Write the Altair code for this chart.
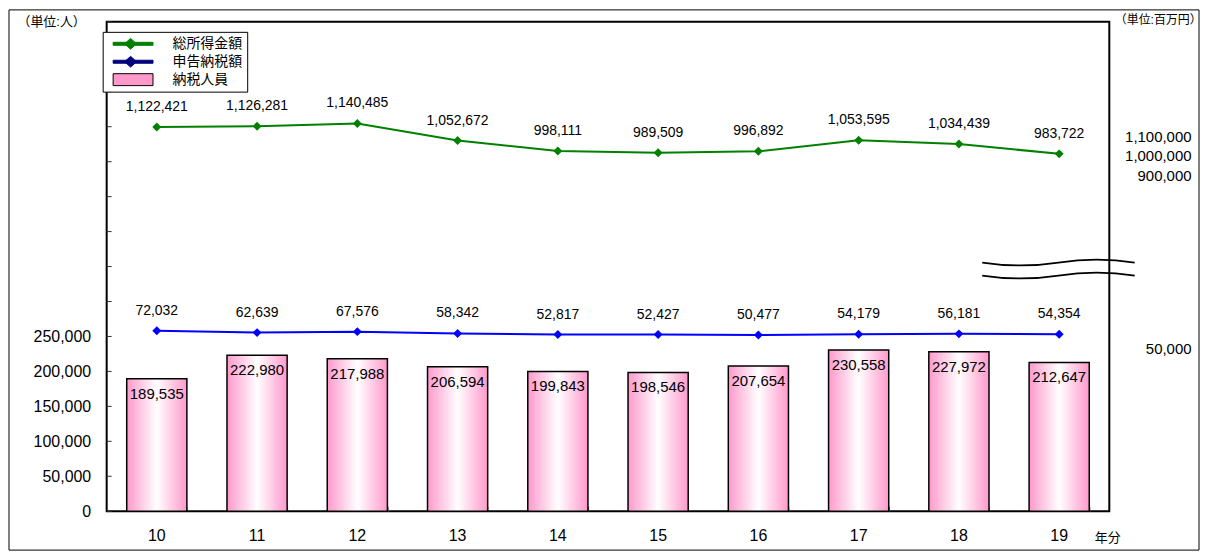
import altair as alt
import pandas as pd

# ---- data ----
years = ["10", "11", "12", "13", "14", "15", "16", "17", "18", "19"]
people = [189535, 222980, 217988, 206594, 199843, 198546, 207654, 230558, 227972, 212647]   # 納税人員 (人)
income = [1122421, 1126281, 1140485, 1052672, 998111, 989509, 996892, 1053595, 1034439, 983722]  # 総所得金額 (百万円)
tax = [72032, 62639, 67576, 58342, 52817, 52427, 50477, 54179, 56181, 54354]  # 申告納税額 (百万円)
left_tick_values = list(range(0, 700001, 50000))
left_label_values = [0, 50000, 100000, 150000, 200000, 250000]
right_label_values = [50000, 900000, 1000000, 1100000]
legend_names = ["総所得金額", "申告納税額", "納税人員"]

GREEN = "#008000"
BLUE = "#0000FF"
NAVY = "#000080"
PINK = "#FF99CC"
FONT = "Liberation Sans, Noto Sans CJK JP"

W, H = 1006, 491

df = pd.DataFrame({"year": years, "people": people, "income": income, "tax": tax})
ticks_df = pd.DataFrame({"v": left_tick_values})
one = pd.DataFrame({"k": [0]})

x_scale = alt.Scale(paddingInner=0.4, paddingOuter=0.2)

x_bottom = alt.X(
    "year:N", sort=years, scale=x_scale,
    axis=alt.Axis(orient="bottom", labelAngle=0, labelFontSize=16, labelPadding=24,
                  labelBaseline="middle", ticks=False, tickSize=0, domain=False, grid=False,
                  title="年分", titleX=991, titleY=26, titleAlign="left",
                  titleBaseline="middle", titleFontSize=13, titleFontWeight="normal"),
)
top_tick_axis = alt.Axis(orient="top", offset=-H, labels=False, domain=False, ticks=True,
                         tickSize=5, tickBand="extent", tickColor="#666666", tickWidth=1,
                         grid=False, title=None)
x_top = alt.X("year:N", sort=years, scale=x_scale, axis=top_tick_axis)

people_scale = alt.Scale(domain=[0, 700000], nice=False, zero=True)
left_axis = alt.Axis(orient="left", values=left_label_values, labelExpr="format(datum.value, ',')",
                     labelFontSize=16, labelPadding=16, ticks=False, tickSize=0, domain=False,
                     grid=False, title="（単位:人）", titleAngle=0, titleX=-90, titleY=0,
                     titleAlign="left", titleBaseline="middle", titleFontSize=13,
                     titleFontWeight="normal")

money_scale = alt.Scale(domain=[-858000, 1664000], nice=False, zero=False)
right_axis = alt.Axis(orient="right", values=right_label_values, labelExpr="format(datum.value, ',')",
                      labelFontSize=15, labelAlign="right", labelPadding=82,
                      labelOffset={"condition": {"test": "datum.value < 100000", "value": 14}, "value": 5},
                      ticks=False, tickSize=0, domain=False, grid=False,
                      title="（単位:百万円）", titleAngle=0, titleX=5, titleY=-2, titleAlign="left",
                      titleBaseline="middle", titleFontSize=12, titleFontWeight="normal")

bar_gradient = alt.Gradient(
    gradient="linear",
    stops=[alt.GradientStop(color=PINK, offset=0),
           alt.GradientStop(color="white", offset=0.5),
           alt.GradientStop(color=PINK, offset=1)],
    x1=0, x2=1, y1=0, y2=0,
)

# outer frame of the whole figure
frame = alt.Chart(one).mark_rect(fill="white", fillOpacity=0, stroke="black", strokeWidth=1).encode(
    x=alt.value(-98), x2=alt.value(1096), y=alt.value(-12), y2=alt.value(530)
)

bars = alt.Chart(df).mark_bar(fill=bar_gradient, stroke="black", strokeWidth=1.5).encode(
    x=x_bottom,
    y=alt.Y("people:Q", scale=people_scale, axis=left_axis),
)
bar_labels = alt.Chart(df).mark_text(baseline="top", dy=8, fontSize=15, color="black").encode(
    x=x_bottom,
    y=alt.Y("people:Q", scale=people_scale, axis=left_axis),
    text=alt.Text("people:Q", format=","),
)
left_ticks = alt.Chart(ticks_df).mark_rule(color="#333333", strokeWidth=1).encode(
    y=alt.Y("v:Q", scale=people_scale, axis=left_axis),
    x=alt.value(0), x2=alt.value(5),
)

wave_path = ("M-1,-0.085 C-0.64,-0.03 -0.36,-0.03 0,-0.085 C0.36,-0.14 0.64,-0.14 1,-0.085 "
             "M-1,0.085 C-0.64,0.14 -0.36,0.14 0,0.085 C0.36,0.03 0.64,0.03 1,0.085")
break_mark = alt.Chart(one).mark_point(shape=wave_path, size=153 * 153, filled=False,
                                        stroke="black", strokeWidth=1.8, opacity=1).encode(
    x=alt.value(955), y=alt.value(248)
)

bars_layer = alt.layer(frame, bars, bar_labels, left_ticks, break_mark)

green_line = alt.Chart(df).mark_line(
    color=GREEN, strokeWidth=2,
    point=alt.OverlayMarkDef(shape="diamond", size=80, filled=True, color=GREEN),
).encode(x=x_top, y=alt.Y("income:Q", scale=money_scale, axis=right_axis))
green_text = alt.Chart(df).mark_text(dy=-20, fontSize=14, color="black").encode(
    x=x_top, y=alt.Y("income:Q", scale=money_scale, axis=right_axis),
    text=alt.Text("income:Q", format=","),
)
blue_line = alt.Chart(df).mark_line(
    color=BLUE, strokeWidth=2,
    point=alt.OverlayMarkDef(shape="diamond", size=80, filled=True, color=BLUE),
).encode(x=x_top, y=alt.Y("tax:Q", scale=money_scale, axis=right_axis))
blue_text = alt.Chart(df).mark_text(dy=-20, fontSize=14, color="black").encode(
    x=x_top, y=alt.Y("tax:Q", scale=money_scale, axis=right_axis),
    text=alt.Text("tax:Q", format=","),
)

line_symbol = "M-1,-0.075H1V0.075H-1Z M-0.125,-0.27L0.175,0L-0.125,0.27L-0.425,0Z"
rect_symbol = "M-1,-0.3H1V0.3H-1Z"
leg = alt.Legend(title=None, orient="none", legendX=-4, legendY=10, fillColor="white",
                 strokeColor="black", padding=5, symbolOffset=5, labelOffset=19,
                 labelFontSize=14, rowPadding=4, clipHeight=14, symbolSize=1600,
                 symbolStrokeWidth=1, labelExpr="datum.label + '　'")
legend_layer = alt.Chart(alt.Data(values=[])).mark_point(filled=True, size=1600, opacity=1).encode(
    fill=alt.Fill("s:N", scale=alt.Scale(domain=legend_names, range=[GREEN, NAVY, PINK]), legend=leg),
    stroke=alt.Stroke("s:N", scale=alt.Scale(domain=legend_names, range=[GREEN, NAVY, "black"]), legend=leg),
    shape=alt.Shape("s:N", scale=alt.Scale(domain=legend_names, range=[line_symbol, line_symbol, rect_symbol]), legend=leg),
)

lines_layer = alt.layer(green_line, green_text, blue_line, blue_text, legend_layer)

chart = (
    alt.layer(bars_layer, lines_layer)
    .resolve_scale(y="independent")
    .resolve_axis(x="independent", y="independent")
    .properties(width=W, height=H, padding=0)
    .configure(font=FONT)
    .configure_view(stroke="black", strokeWidth=2)
)

chart.save("out.html", embed_options={"renderer": "svg", "actions": False})
